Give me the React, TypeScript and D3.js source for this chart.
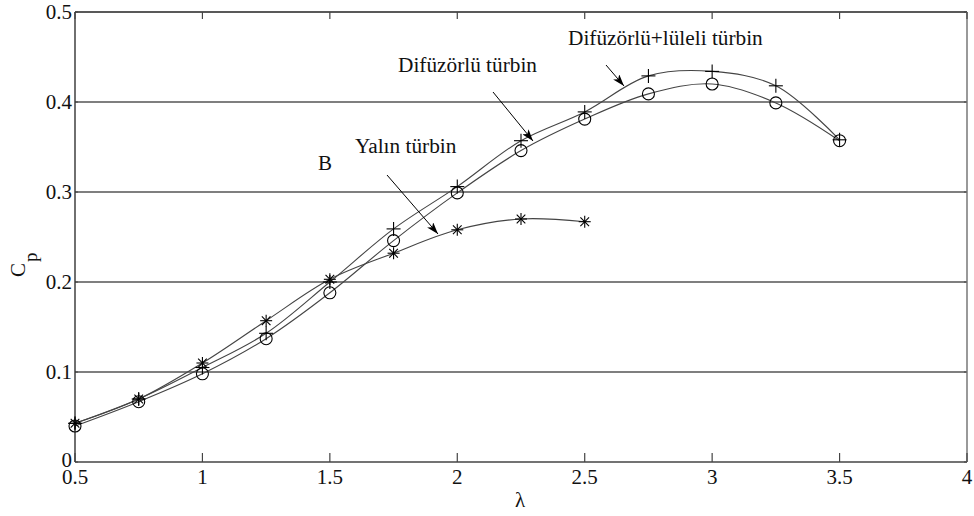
import React from 'react'
import * as d3 from 'd3'

// lambda values
const lambdaShort = [0.5, 0.75, 1, 1.25, 1.5, 1.75, 2, 2.25, 2.5]
const lambdaLong = [0.5, 0.75, 1, 1.25, 1.5, 1.75, 2, 2.25, 2.5, 2.75, 3, 3.25, 3.5]

// Cp series
const yalin = [0.043, 0.07, 0.11, 0.157, 0.203, 0.232, 0.258, 0.27, 0.267]
const difuzorlu = [0.04, 0.067, 0.098, 0.137, 0.188, 0.246, 0.299, 0.346, 0.381, 0.409, 0.42, 0.399, 0.357]
const luleli = [0.043, 0.07, 0.105, 0.143, 0.2, 0.259, 0.306, 0.357, 0.389, 0.429, 0.434, 0.418, 0.358]

const xTicks = [0.5, 1, 1.5, 2, 2.5, 3, 3.5, 4]
const yTicks = [0, 0.1, 0.2, 0.3, 0.4, 0.5]
const gridY = [0.1, 0.2, 0.3, 0.4]

const W = 974
const H = 516
const FONT = "'Liberation Serif'"

const x = d3.scaleLinear().domain([0.5, 4]).range([75, 967])
const y = d3.scaleLinear().domain([0, 0.5]).range([462, 12])

const line = d3.line<[number, number]>()
  .x(d => x(d[0]))
  .y(d => y(d[1]))
  .curve(d3.curveCatmullRom.alpha(0.5))

const zip = (xs: number[], ys: number[]) => xs.map((v, i) => [v, ys[i]] as [number, number])

const txt = { fontFamily: FONT }

const Star = ({ cx, cy }: { cx: number, cy: number }) => {
  const r = 6
  const d = r * 0.72
  return (
    <g stroke='#000' strokeWidth={1.1}>
      <line x1={cx - r} y1={cy} x2={cx + r} y2={cy} />
      <line x1={cx} y1={cy - r} x2={cx} y2={cy + r} />
      <line x1={cx - d} y1={cy - d} x2={cx + d} y2={cy + d} />
      <line x1={cx - d} y1={cy + d} x2={cx + d} y2={cy - d} />
    </g>
  )
}

const Plus = ({ cx, cy }: { cx: number, cy: number }) => {
  const r = 7
  return (
    <g stroke='#000' strokeWidth={1.1}>
      <line x1={cx - r} y1={cy} x2={cx + r} y2={cy} />
      <line x1={cx} y1={cy - r} x2={cx} y2={cy + r} />
    </g>
  )
}

export default function App () {
  const sYalin = zip(lambdaShort, yalin)
  const sDif = zip(lambdaLong, difuzorlu)
  const sLul = zip(lambdaLong, luleli)

  return (
    <svg width={W} height={H} viewBox={`0 0 ${W} ${H}`}
      style={{ position: 'absolute', left: 0, top: 0, background: '#fff' }}>
      <defs>
        <marker id='arr' viewBox='0 0 12 8' refX='12' refY='4' markerWidth='12' markerHeight='8'
          markerUnits='userSpaceOnUse' orient='auto'>
          <path d='M0,0 L12,4 L0,8 L3,4 z' fill='#000' />
        </marker>
      </defs>
      <rect width={W} height={H} fill='#fff' />

      {/* grid */}
      {gridY.map(v => (
        <line key={v} x1={x(0.5)} x2={x(4)} y1={y(v)} y2={y(v)} stroke='#555' strokeWidth={1.5} />
      ))}

      {/* frame */}
      <line x1={x(0.5)} x2={x(4)} y1={y(0.5)} y2={y(0.5)} stroke='#222' strokeWidth={1.3} />
      <line x1={x(0.5)} x2={x(4)} y1={y(0)} y2={y(0)} stroke='#444' strokeWidth={1.5} />
      <line x1={x(0.5)} x2={x(0.5)} y1={y(0)} y2={y(0.5)} stroke='#222' strokeWidth={1.3} />
      <line x1={x(4)} x2={x(4)} y1={y(0)} y2={y(0.5)} stroke='#999' strokeWidth={2} />

      {/* ticks */}
      {xTicks.map(v => (
        <g key={v} stroke='#444' strokeWidth={1.2}>
          <line x1={x(v)} x2={x(v)} y1={y(0)} y2={y(0) - 9} />
          <line x1={x(v)} x2={x(v)} y1={y(0.5)} y2={y(0.5) + 7} />
        </g>
      ))}
      {yTicks.map(v => (
        <g key={v} stroke='#444' strokeWidth={1}>
          <line x1={x(0.5)} x2={x(0.5) + 3} y1={y(v)} y2={y(v)} />
          <line x1={x(4) - 3} x2={x(4)} y1={y(v)} y2={y(v)} />
        </g>
      ))}

      {/* tick labels */}
      {xTicks.map(v => (
        <text key={v} style={txt} x={x(v)} y={484} textAnchor='middle' fontSize={21} fill='#111'>{v}</text>
      ))}
      {yTicks.map(v => (
        <text key={v} style={txt} x={72} y={y(v)} dy={v === 0 ? '0.26em' : '0.34em'} textAnchor='end' fontSize={21} fill='#111'>{v}</text>
      ))}

      {/* axis labels */}
      <text style={txt} x={520} y={507} textAnchor='middle' fontSize={21} fill='#111'>λ</text>
      <g transform='translate(25,277) rotate(-90)'>
        <text style={txt} x={0} y={0} fontSize={21} fill='#111'>C</text>
        <text style={txt} x={15} y={12} fontSize={19} fill='#111'>p</text>
      </g>

      {/* curves */}
      <path d={line(sYalin) || ''} fill='none' stroke='#444' strokeWidth={1.1} />
      <path d={line(sDif) || ''} fill='none' stroke='#444' strokeWidth={1.1} />
      <path d={line(sLul) || ''} fill='none' stroke='#444' strokeWidth={1.1} />

      {/* markers */}
      {sDif.map((d, i) => (
        <circle key={'c' + i} cx={x(d[0])} cy={y(d[1])} r={6} fill='none' stroke='#000' strokeWidth={1.1} />
      ))}
      {sLul.map((d, i) => <Plus key={'p' + i} cx={x(d[0])} cy={y(d[1])} />)}
      {sYalin.map((d, i) => <Star key={'s' + i} cx={x(d[0])} cy={y(d[1])} />)}

      {/* annotations */}
      <text style={txt} x={318} y={170} fontSize={21} fill='#111'>B</text>
      <text style={txt} x={355} y={153} fontSize={21.3} fill='#111'>Yalın türbin</text>
      <line x1={387} y1={175} x2={438} y2={234} stroke='#000' strokeWidth={1} markerEnd='url(#arr)' />
      <text style={txt} x={398} y={72} fontSize={21.3} fill='#111'>Difüzörlü türbin</text>
      <line x1={493} y1={92} x2={533} y2={141} stroke='#000' strokeWidth={1} markerEnd='url(#arr)' />
      <text style={txt} x={568} y={45} fontSize={21.3} fill='#111'>Difüzörlü+lüleli türbin</text>
      <line x1={606} y1={65} x2={624} y2={86} stroke='#000' strokeWidth={1} markerEnd='url(#arr)' />
    </svg>
  )
}
